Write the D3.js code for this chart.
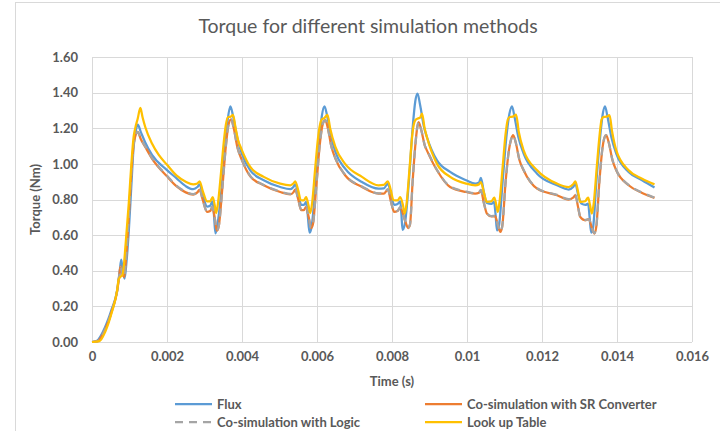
<!DOCTYPE html>
<html>
<head>
<meta charset="utf-8">
<script src="https://cdn.jsdelivr.net/npm/d3@7"></script>
<style>
  body { margin: 0; background: #fff; }
  text { font-family: Lato, "Open Sans", sans-serif; fill: #595959; }
  .grid line { stroke: #d9d9d9; stroke-width: 1; }
  .tick text { font-weight: bold; font-size: 13px; }
  .series { fill: none; stroke-width: 2.25; stroke-linejoin: round; }
</style>
</head>
<body>
<div id="chart"></div>
<script>
var w = 720, h = 431;

var seriesNames = ["Flux", "Co-simulation with SR Converter", "Co-simulation with Logic", "Look up Table"];
var yTicks = [0, 0.2, 0.4, 0.6, 0.8, 1.0, 1.2, 1.4, 1.6];
var xTicks = [0, 0.002, 0.004, 0.006, 0.008, 0.01, 0.012, 0.014, 0.016];
var xTickLabels = ["0", "0.002", "0.004", "0.006", "0.008", "0.01", "0.012", "0.014", "0.016"];

// [time (s), torque (Nm)]
var flux = [[0,0],[0.00012,0.005],[0.00035,0.084],[0.00053,0.187],[0.00067,0.29],[0.00074,0.40],[0.00078,0.462],[0.00082,0.40],[0.00087,0.356],[0.00092,0.45],[0.00098,0.62],[0.00105,0.88],[0.00111,1.095],[0.00116,1.175],[0.00122,1.22],[0.0013,1.18],[0.00142,1.12],[0.0016,1.05],[0.002,0.965],[0.00225,0.92],[0.0025,0.875],[0.0027,0.858],[0.00281,0.87],[0.00287,0.885],[0.00295,0.83],[0.00307,0.76],[0.00315,0.765],[0.00321,0.79],[0.00325,0.72],[0.00329,0.61],[0.00333,0.64],[0.00345,0.85],[0.00355,1.1],[0.00362,1.25],[0.00369,1.323],[0.00376,1.27],[0.00387,1.15],[0.004,1.055],[0.00422,0.964],[0.00458,0.908],[0.00502,0.87],[0.00529,0.858],[0.00537,0.87],[0.00542,0.885],[0.0055,0.83],[0.00558,0.77],[0.00565,0.77],[0.00571,0.786],[0.00575,0.72],[0.0058,0.614],[0.00585,0.64],[0.00595,0.85],[0.00605,1.1],[0.00613,1.27],[0.0062,1.323],[0.00627,1.27],[0.00637,1.16],[0.00649,1.067],[0.00675,0.973],[0.0072,0.898],[0.00764,0.861],[0.00778,0.862],[0.00789,0.889],[0.00797,0.83],[0.00806,0.77],[0.00815,0.775],[0.00822,0.79],[0.00825,0.72],[0.00828,0.63],[0.00834,0.66],[0.00845,0.9],[0.00855,1.2],[0.00862,1.35],[0.00868,1.395],[0.00875,1.33],[0.00885,1.21],[0.00893,1.151],[0.0092,1.02],[0.00955,0.955],[0.00998,0.908],[0.01022,0.889],[0.01032,0.895],[0.01037,0.921],[0.01045,0.84],[0.01053,0.78],[0.01065,0.775],[0.01072,0.786],[0.01076,0.72],[0.0108,0.627],[0.01085,0.65],[0.01095,0.9],[0.01105,1.15],[0.01113,1.28],[0.0112,1.323],[0.01127,1.26],[0.01137,1.15],[0.01151,1.058],[0.01187,0.945],[0.0124,0.88],[0.01271,0.856],[0.01283,0.87],[0.01289,0.889],[0.01296,0.83],[0.01305,0.777],[0.01316,0.77],[0.01323,0.777],[0.01327,0.7],[0.01331,0.614],[0.01336,0.64],[0.01345,0.9],[0.01355,1.15],[0.01362,1.28],[0.01368,1.323],[0.01375,1.26],[0.01385,1.15],[0.01398,1.058],[0.01431,0.955],[0.01467,0.908],[0.015,0.867]];

var srConverter = [[0,0],[0.00014,0.003],[0.00035,0.07],[0.00053,0.175],[0.00067,0.285],[0.00072,0.36],[0.00076,0.425],[0.0008,0.39],[0.00086,0.365],[0.0009,0.45],[0.00098,0.7],[0.00105,0.95],[0.00111,1.11],[0.00116,1.16],[0.00122,1.18],[0.0013,1.14],[0.00142,1.095],[0.0016,1.03],[0.002,0.93],[0.00225,0.875],[0.0025,0.84],[0.0027,0.828],[0.00281,0.84],[0.00287,0.856],[0.00295,0.8],[0.00307,0.73],[0.00315,0.735],[0.00321,0.758],[0.00327,0.7],[0.00333,0.625],[0.00338,0.65],[0.00347,0.85],[0.00357,1.1],[0.00364,1.22],[0.00371,1.25],[0.00378,1.2],[0.00388,1.09],[0.004,1.02],[0.00422,0.93],[0.00458,0.88],[0.00502,0.842],[0.00529,0.829],[0.00537,0.84],[0.00542,0.856],[0.0055,0.8],[0.00558,0.74],[0.00565,0.74],[0.00571,0.758],[0.00578,0.7],[0.00584,0.64],[0.00589,0.66],[0.00598,0.87],[0.00607,1.1],[0.00615,1.22],[0.00622,1.245],[0.00629,1.2],[0.00638,1.1],[0.00649,1.03],[0.00675,0.936],[0.0072,0.87],[0.00764,0.833],[0.00778,0.833],[0.00789,0.856],[0.00797,0.79],[0.00806,0.73],[0.00815,0.735],[0.00822,0.755],[0.00835,0.68],[0.00843,0.64],[0.00848,0.66],[0.00855,0.9],[0.00862,1.1],[0.00867,1.2],[0.00871,1.235],[0.00878,1.19],[0.00888,1.1],[0.00893,1.076],[0.0092,0.964],[0.00955,0.87],[0.00998,0.842],[0.01022,0.833],[0.01032,0.838],[0.01037,0.852],[0.01045,0.78],[0.01053,0.721],[0.01065,0.705],[0.01075,0.706],[0.01082,0.66],[0.01089,0.618],[0.01094,0.65],[0.01103,0.9],[0.01112,1.08],[0.01118,1.14],[0.01123,1.161],[0.0113,1.12],[0.0114,1.02],[0.01151,0.964],[0.01187,0.861],[0.0124,0.824],[0.01271,0.8],[0.01283,0.81],[0.01289,0.824],[0.01296,0.76],[0.01302,0.702],[0.01315,0.683],[0.01325,0.69],[0.01333,0.64],[0.0134,0.609],[0.01345,0.65],[0.01353,0.9],[0.01362,1.1],[0.01367,1.15],[0.01371,1.161],[0.01378,1.12],[0.01388,1.02],[0.01398,0.964],[0.01431,0.88],[0.01467,0.837],[0.015,0.809]];

var logic = [[0,0],[0.00014,0.003],[0.00035,0.07],[0.00053,0.176],[0.00067,0.286],[0.00072,0.36],[0.00076,0.42],[0.0008,0.39],[0.00086,0.366],[0.0009,0.45],[0.00098,0.7],[0.00105,0.95],[0.00111,1.11],[0.00116,1.16],[0.00122,1.18],[0.0013,1.142],[0.00142,1.098],[0.0016,1.033],[0.002,0.933],[0.00225,0.878],[0.0025,0.843],[0.0027,0.83],[0.00281,0.842],[0.00287,0.858],[0.00295,0.8],[0.00307,0.732],[0.00315,0.737],[0.00321,0.76],[0.00327,0.7],[0.00333,0.627],[0.00338,0.65],[0.00347,0.85],[0.00357,1.1],[0.00364,1.22],[0.00371,1.25],[0.00378,1.2],[0.00388,1.092],[0.004,1.022],[0.00422,0.933],[0.00458,0.882],[0.00502,0.845],[0.00529,0.831],[0.00537,0.842],[0.00542,0.858],[0.0055,0.8],[0.00558,0.742],[0.00565,0.742],[0.00571,0.76],[0.00578,0.7],[0.00584,0.642],[0.00589,0.66],[0.00598,0.87],[0.00607,1.1],[0.00615,1.22],[0.00622,1.245],[0.00629,1.2],[0.00638,1.1],[0.00649,1.033],[0.00675,0.938],[0.0072,0.873],[0.00764,0.835],[0.00778,0.835],[0.00789,0.858],[0.00797,0.79],[0.00806,0.732],[0.00815,0.737],[0.00822,0.757],[0.00835,0.68],[0.00843,0.642],[0.00848,0.66],[0.00855,0.9],[0.00862,1.1],[0.00867,1.2],[0.00871,1.235],[0.00878,1.19],[0.00888,1.1],[0.00893,1.078],[0.0092,0.966],[0.00955,0.873],[0.00998,0.845],[0.01022,0.835],[0.01032,0.84],[0.01037,0.854],[0.01045,0.78],[0.01053,0.723],[0.01065,0.707],[0.01075,0.708],[0.01082,0.66],[0.01089,0.62],[0.01094,0.65],[0.01103,0.9],[0.01112,1.08],[0.01118,1.14],[0.01123,1.161],[0.0113,1.12],[0.0114,1.022],[0.01151,0.966],[0.01187,0.863],[0.0124,0.826],[0.01271,0.802],[0.01283,0.812],[0.01289,0.826],[0.01296,0.76],[0.01302,0.704],[0.01315,0.685],[0.01325,0.69],[0.01333,0.64],[0.0134,0.611],[0.01345,0.65],[0.01353,0.9],[0.01362,1.1],[0.01367,1.15],[0.01371,1.161],[0.01378,1.12],[0.01388,1.022],[0.01398,0.966],[0.01431,0.882],[0.01467,0.839],[0.015,0.811]];

var lookupTable = [[0,0],[0.0002,0.005],[0.00035,0.056],[0.00053,0.168],[0.00067,0.29],[0.00071,0.35],[0.00075,0.365],[0.00081,0.375],[0.00085,0.43],[0.00089,0.533],[0.00098,0.777],[0.00105,1.0],[0.00111,1.151],[0.00115,1.198],[0.00122,1.255],[0.00129,1.314],[0.00135,1.26],[0.00142,1.207],[0.0016,1.114],[0.00178,1.05],[0.002,0.995],[0.00225,0.935],[0.0025,0.9],[0.0027,0.885],[0.00281,0.89],[0.00287,0.902],[0.00295,0.85],[0.00307,0.79],[0.00315,0.79],[0.00322,0.814],[0.00327,0.77],[0.00331,0.724],[0.00336,0.78],[0.00344,0.95],[0.00351,1.114],[0.00357,1.22],[0.00363,1.263],[0.0037,1.265],[0.00376,1.275],[0.00383,1.2],[0.0039,1.13],[0.00398,1.086],[0.00422,0.983],[0.00458,0.927],[0.00502,0.889],[0.00529,0.88],[0.00537,0.89],[0.00542,0.902],[0.0055,0.85],[0.00557,0.796],[0.00565,0.795],[0.00571,0.814],[0.00577,0.77],[0.00582,0.724],[0.00587,0.78],[0.00595,0.97],[0.00603,1.15],[0.00608,1.22],[0.00613,1.25],[0.0062,1.258],[0.00628,1.275],[0.00635,1.2],[0.00649,1.095],[0.00675,1.0],[0.0072,0.927],[0.00764,0.88],[0.00778,0.882],[0.00789,0.902],[0.00797,0.85],[0.00804,0.796],[0.00815,0.795],[0.00822,0.814],[0.00829,0.77],[0.00834,0.721],[0.00839,0.78],[0.00847,0.98],[0.00855,1.18],[0.00862,1.245],[0.00869,1.255],[0.00875,1.26],[0.0088,1.282],[0.00887,1.2],[0.00893,1.151],[0.0092,1.0],[0.00955,0.927],[0.00998,0.889],[0.01022,0.88],[0.01032,0.885],[0.01037,0.898],[0.01045,0.84],[0.01053,0.786],[0.01065,0.79],[0.01073,0.811],[0.01078,0.77],[0.01082,0.73],[0.01087,0.79],[0.01095,0.98],[0.01103,1.17],[0.01109,1.25],[0.01114,1.263],[0.01122,1.265],[0.01131,1.277],[0.01138,1.18],[0.01151,1.076],[0.01187,0.964],[0.0124,0.889],[0.01271,0.87],[0.01283,0.885],[0.01289,0.902],[0.01296,0.845],[0.01302,0.786],[0.01315,0.79],[0.01323,0.811],[0.01328,0.77],[0.01333,0.721],[0.01338,0.78],[0.01346,0.98],[0.01354,1.17],[0.01359,1.25],[0.01363,1.263],[0.01372,1.265],[0.0138,1.273],[0.01387,1.18],[0.01398,1.076],[0.01431,0.964],[0.01467,0.917],[0.015,0.885]];

var seriesData = [flux, srConverter, logic, lookupTable];
var colors = ["#5b9bd5", "#ed7d31", "#a5a5a5", "#ffc000"];
var dashes = [null, null, "8,6", null];

var plotLeft = 92, plotRight = 692, plotTop = 57, plotBottom = 342;

var svg = d3.select("#chart").append("svg")
  .attr("width", w)
  .attr("height", h);

// chart frame
svg.append("rect")
  .attr("x", 15.5).attr("y", 2.5)
  .attr("width", w).attr("height", h)
  .attr("fill", "#fff")
  .attr("stroke", "#d9d9d9");

svg.append("text")
  .attr("x", 368)
  .attr("y", 33)
  .attr("text-anchor", "middle")
  .style("font-size", "19.5px")
  .text("Torque for different simulation methods");

var xScale = d3.scaleLinear().domain([0, 0.016]).range([plotLeft, plotRight]);
var yScale = d3.scaleLinear().domain([0, 1.6]).range([plotBottom, plotTop]);

// gridlines
svg.append("g")
  .attr("class", "grid")
  .selectAll("line")
  .data(yTicks)
  .enter().append("line")
  .attr("x1", plotLeft).attr("x2", plotRight)
  .attr("y1", function(d) { return Math.round(yScale(d)) + 0.5; })
  .attr("y2", function(d) { return Math.round(yScale(d)) + 0.5; });

svg.append("g")
  .attr("class", "grid")
  .selectAll("line")
  .data(xTicks)
  .enter().append("line")
  .attr("y1", plotTop).attr("y2", plotBottom)
  .attr("x1", function(d) { return Math.round(xScale(d)) + 0.5; })
  .attr("x2", function(d) { return Math.round(xScale(d)) + 0.5; });

var yAxis = d3.axisLeft(yScale)
  .tickValues(yTicks)
  .tickSize(0)
  .tickPadding(14)
  .tickFormat(d3.format(".2f"));

var xAxis = d3.axisBottom(xScale)
  .tickValues(xTicks)
  .tickSize(0)
  .tickPadding(10)
  .tickFormat(function(d, i) { return xTickLabels[i]; });

svg.append("g")
  .attr("transform", "translate(" + plotLeft + ",0)")
  .call(yAxis)
  .call(function(g) { g.select(".domain").remove(); });

svg.append("g")
  .attr("transform", "translate(0," + plotBottom + ")")
  .call(xAxis)
  .call(function(g) { g.select(".domain").remove(); });

svg.selectAll(".tick text").attr("fill", "#595959").style("font-family", "Lato, sans-serif");

svg.append("text")
  .attr("transform", "translate(40," + ((plotTop + plotBottom) / 2) + ") rotate(-90)")
  .attr("text-anchor", "middle")
  .style("font-size", "13px")
  .style("font-weight", "bold")
  .text("Torque (Nm)");

svg.append("text")
  .attr("x", (plotLeft + plotRight) / 2)
  .attr("y", 386)
  .attr("text-anchor", "middle")
  .style("font-size", "13px")
  .style("font-weight", "bold")
  .text("Time (s)");

var line = d3.line()
  .curve(d3.curveMonotoneX)
  .x(function(d) { return xScale(d[0]); })
  .y(function(d) { return yScale(d[1]); });

svg.append("g")
  .selectAll("path")
  .data(seriesData)
  .enter().append("path")
  .attr("class", "series")
  .attr("stroke", function(d, i) { return colors[i]; })
  .attr("stroke-dasharray", function(d, i) { return dashes[i]; })
  .attr("d", line);

// legend, two columns
var legendPos = [[175, 404], [425, 404], [175, 422], [425, 422]];

var legend = svg.append("g")
  .selectAll("g")
  .data(seriesNames)
  .enter().append("g")
  .attr("transform", function(d, i) { return "translate(" + legendPos[i][0] + "," + legendPos[i][1] + ")"; });

legend.append("line")
  .attr("x1", 0).attr("x2", 37)
  .attr("stroke-width", 2.25)
  .attr("stroke", function(d, i) { return colors[i]; })
  .attr("stroke-dasharray", function(d, i) { return dashes[i]; });

legend.append("text")
  .attr("x", 42)
  .attr("dy", "0.35em")
  .style("font-size", "13px")
  .style("font-weight", "bold")
  .text(function(d) { return d; });
</script>
</body>
</html>
